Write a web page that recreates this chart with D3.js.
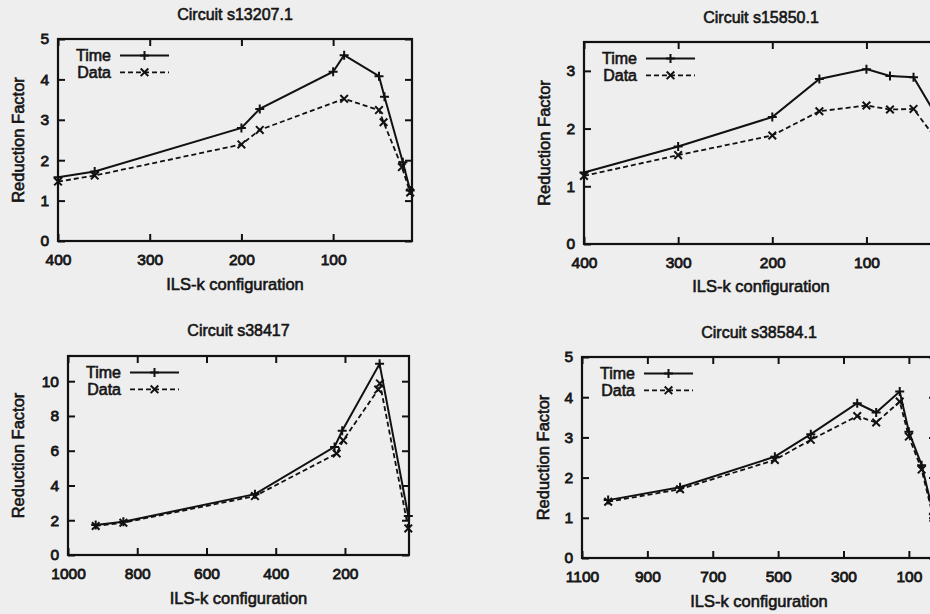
<!DOCTYPE html>
<html>
<head>
<meta charset="utf-8">
<script src="https://cdn.jsdelivr.net/npm/d3@7"></script>
<style>
  body { margin: 0; background: #eeeeee; }
  svg { display: block; }
  text { font-family: "Liberation Sans", Arial, Helvetica, sans-serif; fill: #151515; }
</style>
</head>
<body>
<div id="chart"></div>
<script>
// four gnuplot style panels, reduction factor vs ILS-k configuration

// Circuit s13207.1
const s13207TimeK = [400, 360, 200, 180, 100, 88, 50, 44, 24, 16];
const s13207Time = [1.58, 1.72, 2.8, 3.27, 4.19, 4.6, 4.08, 3.57, 1.95, 1.25];
const s13207DataK = [400, 360, 200, 180, 88, 50, 45, 25, 16];
const s13207Data = [1.47, 1.62, 2.39, 2.75, 3.52, 3.24, 2.94, 1.83, 1.2];

// Circuit s15850.1
const s15850K = [400, 300, 200, 150, 100, 75, 50, 25];
const s15850Time = [1.24, 1.69, 2.2, 2.86, 3.03, 2.91, 2.89, 2.2];
const s15850Data = [1.18, 1.54, 1.88, 2.3, 2.4, 2.33, 2.34, 1.8];

// Circuit s38417
const s38417TimeK = [920, 840, 460, 230, 208, 100, 17];
const s38417Time = [1.72, 1.91, 3.5, 6.22, 7.15, 11.0, 2.24];
const s38417DataK = [920, 840, 460, 224, 205, 104, 99, 17];
const s38417Data = [1.67, 1.86, 3.39, 5.84, 6.6, 9.52, 9.87, 1.53];

// Circuit s38584.1
const s38584K = [1020, 800, 510, 400, 258, 200, 128, 100, 61, 25];
const s38584Time = [1.44, 1.76, 2.52, 3.08, 3.85, 3.62, 4.14, 3.14, 2.31, 1.1];
const s38584Data = [1.4, 1.71, 2.44, 2.94, 3.53, 3.37, 3.89, 3.02, 2.2, 1.0];

// axis ranges and ticks
const s13207XRange = [400, 14], s13207YMax = 5;
const s13207XTicks = [400, 300, 200, 100], s13207YTicks = [0, 1, 2, 3, 4, 5];
const s15850XRange = [400, 24], s15850YMax = 3.5;
const s15850XTicks = [400, 300, 200, 100], s15850YTicks = [0, 1, 2, 3];
const s38417XRange = [1000, 15], s38417YMax = 11.45;
const s38417XTicks = [1000, 800, 600, 400, 200], s38417YTicks = [0, 2, 4, 6, 8, 10];
const s38584XRange = [1100, 17], s38584YMax = 5;
const s38584XTicks = [1100, 900, 700, 500, 300, 100], s38584YTicks = [0, 1, 2, 3, 4, 5];

const width = 930, height = 614;

const svg = d3.select('#chart').append('svg')
    .attr('width', width)
    .attr('height', height);

svg.append('rect')
    .attr('width', width)
    .attr('height', height)
    .attr('fill', '#eeeeee');

const zip = (ks, vs) => ks.map((k, i) => ({ k: k, v: vs[i] }));
const fmt = d3.format('d');

// frame boxes are in page pixels
const panels = [
    {
        title: 'Circuit s13207.1',
        box: { left: 58, right: 412, top: 39, bottom: 241 },
        xRange: s13207XRange, yMax: s13207YMax,
        xTicks: s13207XTicks, yTicks: s13207YTicks,
        time: zip(s13207TimeK, s13207Time),
        data: zip(s13207DataK, s13207Data),
        titleY: 20, xLabelY: 290, yLabelX: 24
    },
    {
        title: 'Circuit s15850.1',
        box: { left: 584, right: 938, top: 42, bottom: 244 },
        xRange: s15850XRange, yMax: s15850YMax,
        xTicks: s15850XTicks, yTicks: s15850YTicks,
        time: zip(s15850K, s15850Time),
        data: zip(s15850K, s15850Data),
        titleY: 23, xLabelY: 292, yLabelX: 550
    },
    {
        title: 'Circuit s38417',
        box: { left: 68, right: 409, top: 356, bottom: 555 },
        xRange: s38417XRange, yMax: s38417YMax,
        xTicks: s38417XTicks, yTicks: s38417YTicks,
        time: zip(s38417TimeK, s38417Time),
        data: zip(s38417DataK, s38417Data),
        titleY: 336, xLabelY: 604, yLabelX: 24
    },
    {
        title: 'Circuit s38584.1',
        box: { left: 582, right: 936, top: 357, bottom: 558 },
        xRange: s38584XRange, yMax: s38584YMax,
        xTicks: s38584XTicks, yTicks: s38584YTicks,
        time: zip(s38584K, s38584Time),
        data: zip(s38584K, s38584Data),
        titleY: 338, xLabelY: 607, yLabelX: 549
    }
];

const tickLen = 7;

function plusPath(s) {
    return `M${-s},0H${s}M0,${-s}V${s}`;
}
function crossPath(s) {
    return `M${-s},${-s}L${s},${s}M${-s},${s}L${s},${-s}`;
}

function drawPanel(p) {
    const b = p.box;
    const g = svg.append('g');

    const x = d3.scaleLinear().domain(p.xRange).range([b.left, b.right]);
    const y = d3.scaleLinear().domain([0, p.yMax]).range([b.bottom, b.top]);

    // bottom axis with labels, ticks point inward
    g.append('g')
        .attr('transform', `translate(0,${b.bottom})`)
        .call(d3.axisBottom(x).tickValues(p.xTicks).tickFormat(fmt).tickSize(-tickLen).tickPadding(13))
        .call(ax => ax.select('.domain').remove());
    // top mirror ticks
    g.append('g')
        .attr('transform', `translate(0,${b.top})`)
        .call(d3.axisTop(x).tickValues(p.xTicks).tickSize(-tickLen).tickFormat(''))
        .call(ax => ax.select('.domain').remove());
    g.append('g')
        .attr('transform', `translate(${b.left},0)`)
        .call(d3.axisLeft(y).tickValues(p.yTicks).tickFormat(fmt).tickSize(-tickLen).tickPadding(9))
        .call(ax => ax.select('.domain').remove());
    g.append('g')
        .attr('transform', `translate(${b.right},0)`)
        .call(d3.axisRight(y).tickValues(p.yTicks).tickSize(-tickLen).tickFormat(''))
        .call(ax => ax.select('.domain').remove());

    g.selectAll('.tick line')
        .attr('stroke', '#111')
        .attr('stroke-width', 2);
    g.selectAll('.tick text')
        .style('font-size', '15.5px')
        .attr('fill', '#151515')
        .attr('stroke', '#151515')
        .attr('stroke-width', 0.8);

    g.append('rect')
        .attr('x', b.left)
        .attr('y', b.top)
        .attr('width', b.right - b.left)
        .attr('height', b.bottom - b.top)
        .attr('fill', 'none')
        .attr('stroke', '#111')
        .attr('stroke-width', 2.2);

    const line = d3.line()
        .x(d => x(d.k))
        .y(d => y(d.v));

    g.append('path')
        .datum(p.data)
        .attr('d', line)
        .attr('fill', 'none')
        .attr('stroke', '#111')
        .attr('stroke-width', 1.8)
        .attr('stroke-dasharray', '5,3');

    g.append('path')
        .datum(p.time)
        .attr('d', line)
        .attr('fill', 'none')
        .attr('stroke', '#111')
        .attr('stroke-width', 2);

    g.selectAll('.mk-time')
        .data(p.time)
        .enter()
        .append('path')
        .attr('class', 'mk-time')
        .attr('transform', d => `translate(${x(d.k)},${y(d.v)})`)
        .attr('d', plusPath(4.5))
        .attr('stroke', '#111')
        .attr('stroke-width', 2)
        .attr('fill', 'none');

    g.selectAll('.mk-data')
        .data(p.data)
        .enter()
        .append('path')
        .attr('class', 'mk-data')
        .attr('transform', d => `translate(${x(d.k)},${y(d.v)})`)
        .attr('d', crossPath(3.8))
        .attr('stroke', '#111')
        .attr('stroke-width', 2)
        .attr('fill', 'none');

    // legend
    const keys = [
        { label: 'Time', dash: null, marker: plusPath(4.5) },
        { label: 'Data', dash: '5,3', marker: crossPath(3.8) }
    ];
    keys.forEach((kd, i) => {
        const ly = b.top + 16.5 + i * 16.8;
        g.append('text')
            .attr('x', b.left + 53)
            .attr('y', ly + 5.5)
            .attr('text-anchor', 'end')
            .style('font-size', '16px')
            .attr('stroke', '#151515')
            .attr('stroke-width', 0.6)
            .text(kd.label);
        g.append('line')
            .attr('x1', b.left + 62)
            .attr('x2', b.left + 111)
            .attr('y1', ly)
            .attr('y2', ly)
            .attr('stroke', '#111')
            .attr('stroke-width', kd.dash ? 1.8 : 2)
            .attr('stroke-dasharray', kd.dash);
        g.append('path')
            .attr('transform', `translate(${b.left + 86.5},${ly})`)
            .attr('d', kd.marker)
            .attr('stroke', '#111')
            .attr('stroke-width', 2)
            .attr('fill', 'none');
    });

    const cx = (b.left + b.right) / 2;

    g.append('text')
        .attr('x', cx)
        .attr('y', p.titleY)
        .attr('text-anchor', 'middle')
        .style('font-size', '16px')
        .attr('stroke', '#151515')
        .attr('stroke-width', 0.6)
        .text(p.title);

    g.append('text')
        .attr('x', cx)
        .attr('y', p.xLabelY)
        .attr('text-anchor', 'middle')
        .style('font-size', '16.5px')
        .attr('stroke', '#151515')
        .attr('stroke-width', 0.6)
        .text('ILS-k configuration');

    g.append('text')
        .attr('transform', `translate(${p.yLabelX},${(b.top + b.bottom) / 2}) rotate(-90)`)
        .attr('text-anchor', 'middle')
        .style('font-size', '16.5px')
        .attr('stroke', '#151515')
        .attr('stroke-width', 0.6)
        .text('Reduction Factor');
}

panels.forEach(drawPanel);
</script>
</body>
</html>
